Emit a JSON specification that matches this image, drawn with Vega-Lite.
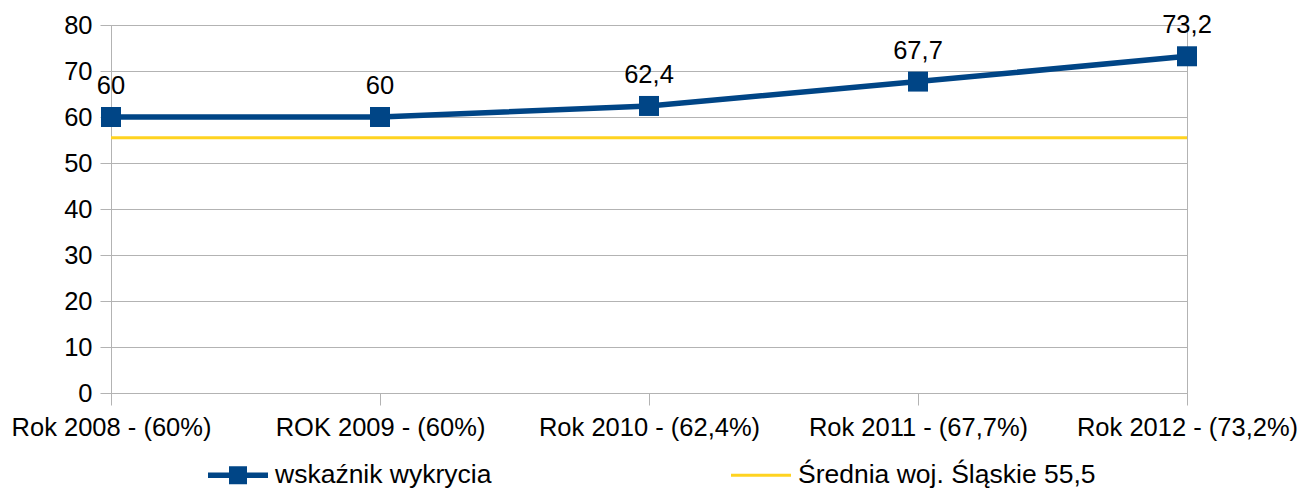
{
  "$schema": "https://vega.github.io/schema/vega-lite/v6.json",
  "width": 1076,
  "height": 368,
  "autosize": "none",
  "padding": {"left": 111, "top": 25, "right": 116, "bottom": 96},
  "background": "white",
  "config": {
    "view": {"stroke": "#b3b3b3", "strokeWidth": 1},
    "font": "Liberation Sans"
  },
  "data": {
    "values": [
      {"rok": "Rok 2008 - (60%)", "seria": "wskaźnik wykrycia", "wartosc": 60, "etykieta": "60"},
      {"rok": "ROK 2009 - (60%)", "seria": "wskaźnik wykrycia", "wartosc": 60, "etykieta": "60"},
      {"rok": "Rok 2010 - (62,4%)", "seria": "wskaźnik wykrycia", "wartosc": 62.4, "etykieta": "62,4"},
      {"rok": "Rok 2011 - (67,7%)", "seria": "wskaźnik wykrycia", "wartosc": 67.7, "etykieta": "67,7"},
      {"rok": "Rok 2012 - (73,2%)", "seria": "wskaźnik wykrycia", "wartosc": 73.2, "etykieta": "73,2"},
      {"rok": "Rok 2008 - (60%)", "seria": "Średnia woj. Śląskie 55,5", "wartosc": 55.5, "etykieta": ""},
      {"rok": "ROK 2009 - (60%)", "seria": "Średnia woj. Śląskie 55,5", "wartosc": 55.5, "etykieta": ""},
      {"rok": "Rok 2010 - (62,4%)", "seria": "Średnia woj. Śląskie 55,5", "wartosc": 55.5, "etykieta": ""},
      {"rok": "Rok 2011 - (67,7%)", "seria": "Średnia woj. Śląskie 55,5", "wartosc": 55.5, "etykieta": ""},
      {"rok": "Rok 2012 - (73,2%)", "seria": "Średnia woj. Śląskie 55,5", "wartosc": 55.5, "etykieta": ""}
    ]
  },
  "encoding": {
    "x": {
      "field": "rok", "type": "ordinal", "sort": null,
      "scale": {"type": "point", "padding": 0},
      "axis": {
        "title": null, "labelAngle": 0, "labelFontSize": 25.5, "labelColor": "#000000",
        "labelFont": "Liberation Sans", "tickSize": 12, "tickColor": "#b3b3b3",
        "domainColor": "#b3b3b3", "labelPadding": 10, "grid": false, "labelBaseline": "top",
        "labelLimit": 1000, "labelOverlap": false, "labelBound": false, "labelFlush": false
      }
    },
    "y": {
      "field": "wartosc", "type": "quantitative",
      "scale": {"domain": [0, 80], "nice": false, "zero": true},
      "axis": {
        "title": null, "values": [0, 10, 20, 30, 40, 50, 60, 70, 80],
        "labelFontSize": 25.5, "labelColor": "#000000", "labelFont": "Liberation Sans",
        "tickSize": 11, "tickColor": "#b3b3b3", "domainColor": "#b3b3b3",
        "gridColor": "#b3b3b3", "gridWidth": 1, "labelPadding": 8
      }
    },
    "color": {
      "field": "seria", "type": "nominal",
      "scale": {
        "domain": ["wskaźnik wykrycia", "Średnia woj. Śląskie 55,5"],
        "range": ["#004586", "#ffd320"]
      },
      "legend": {
        "title": null, "orient": "none", "direction": "horizontal", "columns": 2,
        "legendX": 97, "legendY": 420, "padding": 0,
        "labelFontSize": 26.5, "labelColor": "#000000", "labelFont": "Liberation Sans",
        "symbolSize": 3600, "labelOffset": 7, "columnPadding": 239, "labelLimit": 400,
        "encode": {
          "symbols": {
            "update": {
              "shape": {"signal": "datum.value === 'wskaźnik wykrycia' ? 'M-1,-0.09H1V0.09H-1Z M-0.3,-0.3H0.3V0.3H-0.3Z' : 'M-1,-0.05H1V0.05H-1Z'"},
              "fill": {"signal": "datum.value === 'wskaźnik wykrycia' ? '#004586' : '#ffd320'"},
              "fillOpacity": {"value": 1},
              "strokeWidth": {"value": 0},
              "opacity": {"value": 1}
            }
          }
        }
      }
    }
  },
  "layer": [
    {
      "transform": [{"filter": "datum.seria === 'Średnia woj. Śląskie 55,5'"}],
      "mark": {"type": "line", "strokeWidth": 3}
    },
    {
      "transform": [{"filter": "datum.seria === 'wskaźnik wykrycia'"}],
      "mark": {"type": "line", "strokeWidth": 5.5, "point": {"shape": "square", "size": 400, "filled": true, "opacity": 1}}
    },
    {
      "transform": [{"filter": "datum.seria === 'wskaźnik wykrycia'"}],
      "mark": {"type": "text", "fontSize": 25.5, "font": "Liberation Sans", "baseline": "alphabetic", "dy": -23, "color": "#000000"},
      "encoding": {"text": {"field": "etykieta"}, "color": {"value": "#000000"}}
    }
  ]
}
